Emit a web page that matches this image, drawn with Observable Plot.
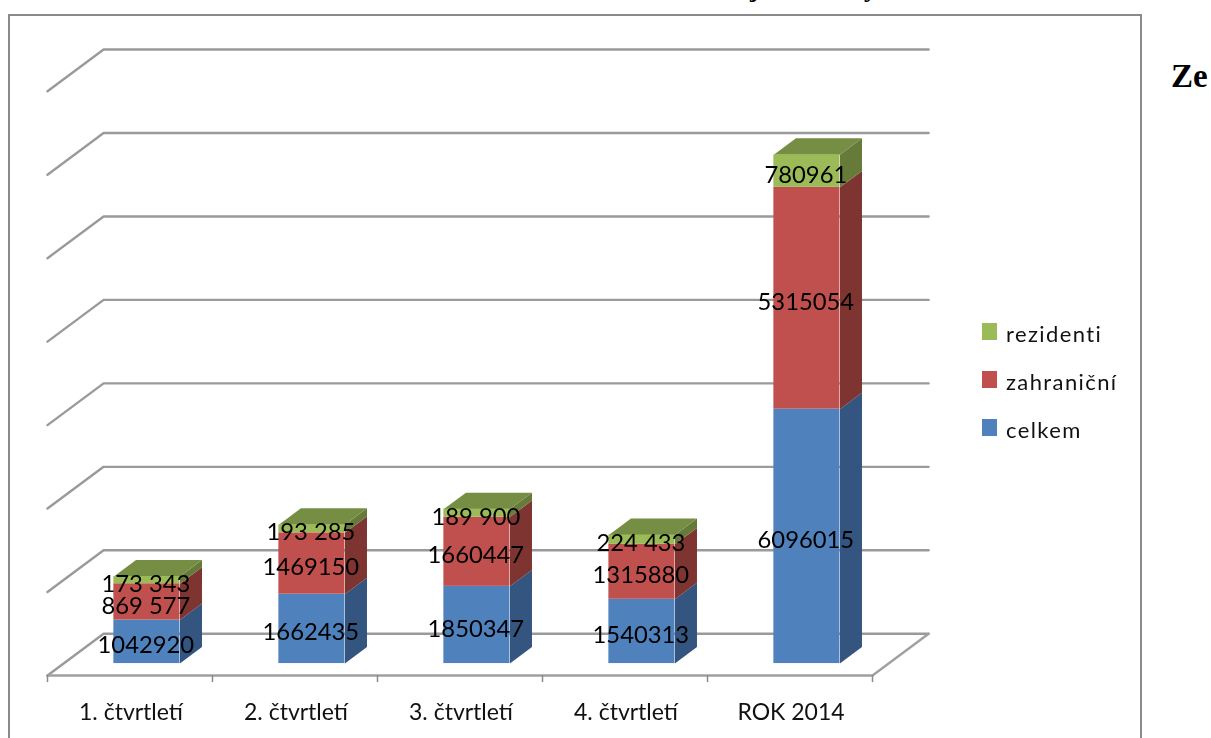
<!DOCTYPE html>
<html><head><meta charset="utf-8">
<script src="https://cdn.jsdelivr.net/npm/d3@7"></script>
<script src="https://cdn.jsdelivr.net/npm/@observablehq/plot@0.6"></script>
<style>
html,body{margin:0;padding:0;background:#fff;width:1211px;height:738px;overflow:hidden}
#wrap{position:relative;width:1211px;height:738px;overflow:hidden}
#frame{position:absolute;left:8px;top:14px;width:1134px;height:760px;border:2px solid #8a8a8a;box-sizing:border-box}
#chart{position:absolute;left:0;top:0}
#chart svg{display:block;background:transparent;filter:blur(.55px)}
.leg{position:absolute;font:22px Lato,sans-serif;letter-spacing:1.4px;color:#111;line-height:22px;filter:blur(.35px)}
.sw{position:absolute;width:15px;height:17px}
#ze{position:absolute;left:1171px;top:58px;font:bold 33px "Liberation Serif",serif;color:#000}
.cut{position:absolute;font:bold 26px "Liberation Serif",serif;color:#000}
</style></head><body>
<div id="wrap"><div id="frame"></div><div id="chart"></div>
<div id="ze">Ze</div>
<div class="cut" style="left:750px;top:-26px">j</div>
<div class="cut" style="left:864px;top:-26px">y</div>
<div class="sw" style="left:982px;top:323px;background:#9BBB59"></div><div class="leg" style="left:1006px;top:323px">rezidenti</div>
<div class="sw" style="left:982px;top:371px;background:#C0504D"></div><div class="leg" style="left:1006px;top:371px">zahraniční</div>
<div class="sw" style="left:982px;top:419px;background:#4F81BD"></div><div class="leg" style="left:1006px;top:419px">celkem</div>
</div>
<script>
const categories = ["1. čtvrtletí","2. čtvrtletí","3. čtvrtletí","4. čtvrtletí","ROK 2014"];
const celkem     = [1042920,1662435,1850347,1540313,6096015];
const zahranicni = [869577,1469150,1660447,1315880,5315054];
const rezidenti  = [173343,193285,189900,224433,780961];
const celkemLabels     = ["1042920","1662435","1850347","1540313","6096015"];
const zahranicniLabels = ["869 577","1469150","1660447","1315880","5315054"];
const rezidentiLabels  = ["173 343","193 285","189 900","224 433","780961"];
const gridValues = [0,2e6,4e6,6e6,8e6,10e6,12e6,14e6];

// oblique projection of a (category, value, depth) point on to the x and y scales
const depthX = 0.34, depthY = 1e6;
const px = (c,d) => c + d*depthX;
const py = (v,d) => v + d*depthY;
const barLeft = 0.305, barRight = 0.705, d0 = 0.286, d1 = 0.68;

const faces = [], fronts = [], labels = [];
const series = [
  {vals:celkem, labs:celkemLabels, front:"#4F81BD", side:"#33557F", top:"#3F6797"},
  {vals:zahranicni, labs:zahranicniLabels, front:"#C0504D", side:"#7E3431", top:"#9A403E"},
  {vals:rezidenti, labs:rezidentiLabels, front:"#9BBB59", side:"#667B3A", top:"#758E43"}
];
categories.forEach((cat,i)=>{
  let base = 0;
  const xl = px(i+barLeft,d0), xr = px(i+barRight,d0), xb = px(i+barRight,d1), xlb = px(i+barLeft,d1);
  series.forEach((s,k)=>{
    const v = s.vals[i], t = base+v;
    fronts.push({x1:xl,x2:xr,y1:py(base,d0),y2:py(t,d0),fill:s.front});
    faces.push({id:`s${i}${k}`,fill:s.side,x:xr,y:py(base,d0)},{id:`s${i}${k}`,fill:s.side,x:xb,y:py(base,d1)},
               {id:`s${i}${k}`,fill:s.side,x:xb,y:py(t,d1)},{id:`s${i}${k}`,fill:s.side,x:xr,y:py(t,d0)});
    labels.push({x:(xl+xr)/2,y:py(base+v/2,d0),text:s.labs[i]});
    if(k===2){
      faces.push({id:`t${i}`,fill:s.top,x:xl,y:py(t,d0)},{id:`t${i}`,fill:s.top,x:xr,y:py(t,d0)},
                 {id:`t${i}`,fill:s.top,x:xb,y:py(t,d1)},{id:`t${i}`,fill:s.top,x:xlb,y:py(t,d1)});
    }
    base = t;
  });
});
const grid = gridValues.flatMap(v=>[
  {g:v,x:px(0,0),y:py(v,0)},{g:v,x:px(0,1),y:py(v,1)},{g:v,x:px(5,1),y:py(v,1)}
]);
const floor = [{x:px(0,0),y:py(0,0)},{x:px(5,0),y:py(0,0)},{x:px(5,1),y:py(0,1)}];
const tickPos = d3.range(0,6);

const chart = Plot.plot({
  width:1211,height:738,marginLeft:47,marginRight:339,marginTop:49,marginBottom:63,
  style:{background:"transparent",overflow:"visible"},
  x:{domain:[0,5],axis:null},
  y:{domain:[0,15e6],axis:null},
  marks:[
    Plot.line(grid,{x:"x",y:"y",z:"g",stroke:"#9a9a9a",strokeWidth:2.4,curve:"linear"}),
    Plot.line(floor,{x:"x",y:"y",stroke:"#a0a0a0",strokeWidth:2.4}),
    Plot.ruleX(tickPos,{x:d=>d,y1:0,y2:-170000,stroke:"#8a8a8a",strokeWidth:1.5}),
    Plot.line(faces,{x:"x",y:"y",z:"id",fill:"fill",stroke:"none"}),
    Plot.rect(fronts,{x1:"x1",x2:"x2",y1:"y1",y2:"y2",fill:"fill"}),
    Plot.text(labels,{x:"x",y:"y",text:"text",dy:4,dx:-1,fontSize:23.8,fontFamily:"Lato",fill:"#000"}),
    Plot.text(categories,{x:(d,i)=>i+0.5,y:()=>0,text:d=>d,dy:37,dx:1,fontSize:23,fontFamily:"Lato",fill:"#111",style:{letterSpacing:"1.9px"}})
  ]
});
document.getElementById("chart").append(chart);
</script>
</body></html>
